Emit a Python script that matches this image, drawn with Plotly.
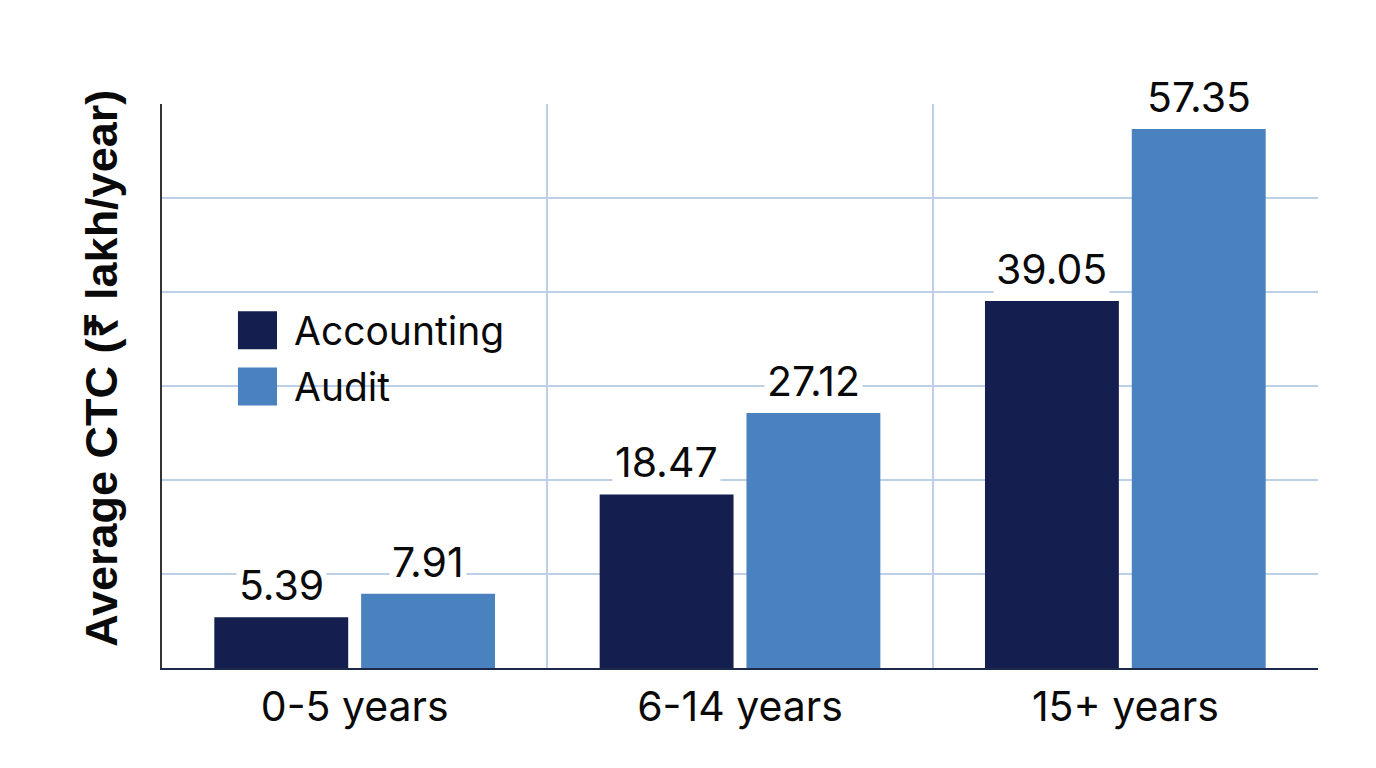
import plotly.graph_objects as go

categories = ["0-5 years", "6-14 years", "15+ years"]
accounting = [5.39, 18.47, 39.05]
audit = [7.91, 27.12, 57.35]
series_names = ["Accounting", "Audit"]
colors = ["#141F50", "#4A81BF"]

x = list(range(len(categories)))
bargap = 0.238
bargroupgap = 0.088
half = (1 - bargap) / 4  # offset of each bar centre from category centre

font = "Inter, Roboto, sans-serif"
grid = "#BDD0E8"

fig = go.Figure()
for name, vals, col in zip(series_names, [accounting, audit], colors):
    fig.add_trace(go.Bar(x=x, y=vals, name=name, marker_color=col,
                         marker_line_width=0, showlegend=False))

# value labels with white background (they cut the gridlines)
for sign, vals in zip([-1, 1], [accounting, audit]):
    for xi, v in zip(x, vals):
        fig.add_annotation(x=xi + sign * half, y=v, text=f"{v:.2f}",
                           showarrow=False, yanchor="bottom", yshift=4,
                           bgcolor="white", borderpad=2,
                           font=dict(family=font, size=41, color="#0A0A0A"))

# hand made legend with big swatches
fig.add_shape(type="rect", xref="paper", yref="paper", layer="between",
              x0=0.056, x1=0.206, y0=0.45, y1=0.55,
              fillcolor="white", line_width=0)
for i, (name, col) in enumerate(zip(series_names, colors)):
    yc = 0.599 - i * 0.1
    fig.add_shape(type="rect", xref="paper", yref="paper",
                  x0=0.0657, x1=0.0995, y0=yc - 0.0337, y1=yc + 0.0337,
                  fillcolor=col, line_width=0)
    fig.add_annotation(xref="paper", yref="paper", x=0.1125, y=yc,
                       xanchor="left", yanchor="middle", text=name,
                       showarrow=False,
                       font=dict(family=font, size=39, color="#0A0A0A"))

# y axis title
fig.add_annotation(xref="paper", yref="paper", x=-0.052, y=0.532,
                   text="Average CTC (₹ lakh/year)", textangle=-90,
                   showarrow=False, xanchor="center", yanchor="middle",
                   font=dict(family="Liberation Sans, Arial, sans-serif",
                             size=45, color="#0A0A0A", weight="bold"))

fig.update_layout(
    barmode="group", bargap=bargap, bargroupgap=bargroupgap,
    width=1376, height=768,
    margin=dict(l=154, r=66, t=96, b=108),
    plot_bgcolor="white", paper_bgcolor="white",
    showlegend=False,
)
fig.update_xaxes(
    range=[-0.5, 2.5], tickvals=x, ticktext=categories,
    showgrid=False, ticks="", ticklabelstandoff=2,
    tickfont=dict(family=font, size=41, color="#0A0A0A"),
    showline=True, linecolor="#1B2A4A", linewidth=1.5,
    minor=dict(tickvals=[0.5, 1.5, 2.5], showgrid=True,
               gridcolor=grid, gridwidth=1.5),
    zeroline=False,
)
fig.update_yaxes(
    range=[0, 60], dtick=10, showticklabels=False,
    gridcolor=grid, gridwidth=1.5,
    showline=True, linecolor="#333333", linewidth=1.5,
    zeroline=False,
)

fig.write_html("out.html")
